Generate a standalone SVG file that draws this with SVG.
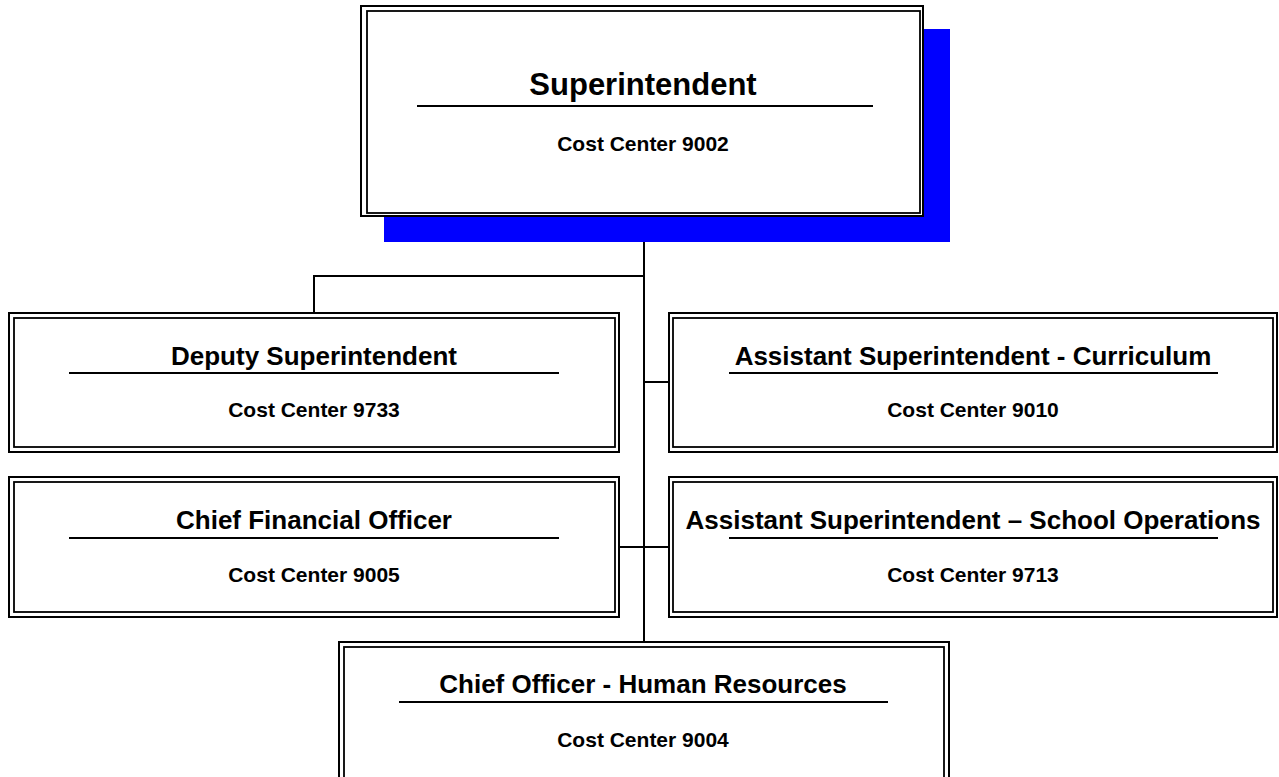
<svg xmlns="http://www.w3.org/2000/svg" width="1279" height="777" viewBox="0 0 1279 777">
<style>
.o{fill:none;stroke:#000;stroke-width:2}
.i{fill:none;stroke:#000;stroke-width:1.8}
.bg{fill:#fff}
.t{font-family:"Liberation Sans",Arial,sans-serif;font-weight:bold;fill:#000;text-anchor:middle}
.h{font-size:26px}
.c{font-size:21px}
.ul{stroke:#000;stroke-width:2}
.cn{stroke:#000;stroke-width:2;fill:none}
</style>
<rect width="1279" height="777" fill="#fff"/>
<g id="connectors">
<line class="cn" x1="644" y1="216" x2="644" y2="642"/>
<polyline class="cn" points="645,276 314,276 314,313"/>
<line class="cn" x1="644" y1="382" x2="669" y2="382"/>
<line class="cn" x1="619" y1="547" x2="669" y2="547"/>
</g>
<g id="superintendent">
<rect x="384" y="29" width="566" height="213" fill="#0000ff"/>
<rect class="bg" x="361" y="6" width="562" height="210"/>
<rect class="o" x="361" y="6" width="562" height="210"/>
<rect class="i" x="367" y="11" width="553" height="202"/>
<text class="t" x="643" y="95" font-size="31">Superintendent</text>
<line class="ul" x1="417" y1="106" x2="873" y2="106"/>
<text class="t c" x="643" y="151">Cost Center 9002</text>
</g>
<g id="deputy">
<rect class="bg" x="9" y="313" width="610" height="139"/>
<rect class="o" x="9" y="313" width="610" height="139"/>
<rect class="i" x="14" y="318" width="601" height="129"/>
<text class="t h" x="314" y="365">Deputy Superintendent</text>
<line class="ul" x1="69" y1="373" x2="559" y2="373"/>
<text class="t c" x="314" y="417">Cost Center 9733</text>
</g>
<g id="curriculum">
<rect class="bg" x="669" y="313" width="608" height="139"/>
<rect class="o" x="669" y="313" width="608" height="139"/>
<rect class="i" x="673" y="318" width="600" height="129"/>
<text class="t h" x="973" y="365">Assistant Superintendent - Curriculum</text>
<line class="ul" x1="729" y1="373" x2="1218" y2="373"/>
<text class="t c" x="973" y="417">Cost Center 9010</text>
</g>
<g id="cfo">
<rect class="bg" x="9" y="477" width="610" height="140"/>
<rect class="o" x="9" y="477" width="610" height="140"/>
<rect class="i" x="14" y="482" width="601" height="130"/>
<text class="t h" x="314" y="529">Chief Financial Officer</text>
<line class="ul" x1="69" y1="538" x2="559" y2="538"/>
<text class="t c" x="314" y="582">Cost Center 9005</text>
</g>
<g id="school-operations">
<rect class="bg" x="669" y="477" width="608" height="140"/>
<rect class="o" x="669" y="477" width="608" height="140"/>
<rect class="i" x="673" y="482" width="600" height="130"/>
<text class="t h" x="973" y="529">Assistant Superintendent – School Operations</text>
<line class="ul" x1="729" y1="538" x2="1218" y2="538"/>
<text class="t c" x="973" y="582">Cost Center 9713</text>
</g>
<g id="human-resources">
<rect class="bg" x="339" y="642" width="610" height="200"/>
<rect class="o" x="339" y="642" width="610" height="200"/>
<rect class="i" x="344" y="647" width="600" height="190"/>
<text class="t h" x="643" y="693">Chief Officer - Human Resources</text>
<line class="ul" x1="399" y1="702" x2="888" y2="702"/>
<text class="t c" x="643" y="747">Cost Center 9004</text>
</g>
</svg>
